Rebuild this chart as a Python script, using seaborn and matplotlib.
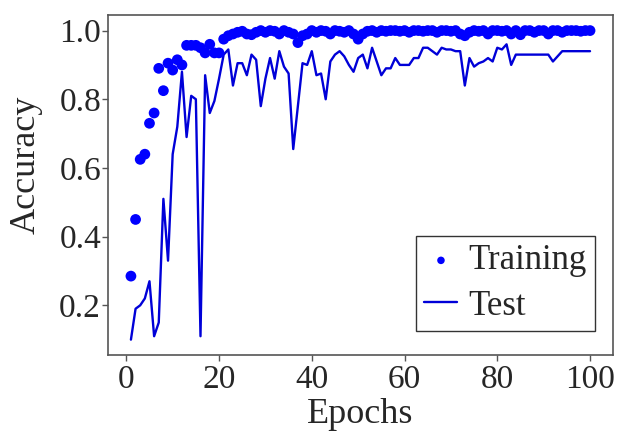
import matplotlib
matplotlib.use("Agg")
import matplotlib.pyplot as plt
import numpy as np
import pandas as pd
import seaborn as sns

# accuracy per epoch
epochs = list(range(1, 101))

train_acc = [
    0.285, 0.45, 0.625, 0.64, 0.73, 0.76, 0.89, 0.825, 0.905, 0.885,
    0.915, 0.90, 0.957, 0.957, 0.957, 0.95, 0.935, 0.96, 0.935, 0.935,
    0.975, 0.985, 0.99, 0.995, 0.998, 0.99, 0.988, 0.995, 1.0, 0.995,
    1.0, 0.998, 0.99, 1.0, 0.995, 0.99, 0.965, 0.985, 0.99, 1.0,
    0.995, 1.0, 0.998, 0.99, 1.0, 0.998, 0.995, 1.0, 0.99, 0.975,
    0.99, 0.998, 1.0, 0.995, 1.0, 0.998, 1.0, 1.0, 0.998, 1.0,
    0.995, 1.0, 1.0, 0.998, 1.0, 1.0, 0.995, 1.0, 1.0, 0.998,
    1.0, 0.99, 0.985, 0.995, 1.0, 0.998, 1.0, 0.99, 1.0, 1.0,
    0.998, 1.0, 0.99, 1.0, 0.988, 1.0, 1.0, 0.995, 1.0, 1.0,
    0.99, 1.0, 1.0, 0.995, 1.0, 1.0, 1.0, 0.998, 1.0, 1.0,
]

test_acc = [
    0.10, 0.19, 0.20, 0.22, 0.27, 0.11, 0.15, 0.51, 0.33, 0.64,
    0.72, 0.88, 0.69, 0.81, 0.80, 0.11, 0.87, 0.76, 0.795, 0.86,
    0.93, 0.945, 0.84, 0.905, 0.905, 0.87, 0.93, 0.915, 0.78, 0.86,
    0.92, 0.86, 0.94, 0.895, 0.875, 0.655, 0.78, 0.905, 0.90, 0.94,
    0.87, 0.875, 0.80, 0.91, 0.93, 0.94, 0.925, 0.90, 0.88, 0.92,
    0.93, 0.89, 0.95, 0.91, 0.87, 0.89, 0.89, 0.92, 0.90, 0.90,
    0.90, 0.92, 0.92, 0.95, 0.95, 0.94, 0.93, 0.95, 0.945, 0.945,
    0.94, 0.94, 0.84, 0.92, 0.895, 0.905, 0.91, 0.92, 0.91, 0.95,
    0.945, 0.96, 0.90, 0.93, 0.93, 0.93, 0.93, 0.93, 0.93, 0.93,
    0.93, 0.91, 0.925, 0.94, 0.94, 0.94, 0.94, 0.94, 0.94, 0.94,
]

df = pd.DataFrame({"epoch": epochs, "train": train_acc, "test": test_acc})

sns.set_style("ticks")
plt.rcParams['font.family'] = ['Liberation Serif', 'DejaVu Serif']

fig = plt.figure(figsize=(6.17, 4.32), dpi=100)
ax = fig.add_axes([0.175, 0.178, 0.8185, 0.787])

sns.scatterplot(data=df, x="epoch", y="train", color="blue", s=60,
                edgecolor="none", label="Training", ax=ax, zorder=3)
sns.lineplot(data=df, x="epoch", y="test", color="#0000d8", linewidth=1.7,
             label="Test", ax=ax)

ax.set_xlabel("Epochs", fontsize=26)
ax.set_ylabel("Accuracy", fontsize=26)
ax.xaxis.set_label_coords(0.5, -0.125)
ax.xaxis.label.set_va("top")
ax.yaxis.set_label_coords(-0.13, 0.56)
ax.set_xticks([0, 20, 40, 60, 80, 100])
ax.set_yticks([0.2, 0.4, 0.6, 0.8, 1.0])
ax.tick_params(labelsize=24, length=4, width=1, color="#555555")
ax.tick_params(axis="x", pad=3)
ax.tick_params(axis="y", pad=1)
for sp in ax.spines.values():
    sp.set_visible(True)
    sp.set_color("#555555")
    sp.set_linewidth(1.2)

leg = ax.legend(loc="lower right", bbox_to_anchor=(0.964, 0.07),
                fontsize=25, frameon=True, fancybox=False,
                edgecolor="black", handlelength=0.95, handletextpad=0.3,
                borderaxespad=0, borderpad=0.25, labelspacing=0.35,
                markerscale=0.7)
leg.get_frame().set_linewidth(1.0)

fig.savefig("out.png", dpi=100)
